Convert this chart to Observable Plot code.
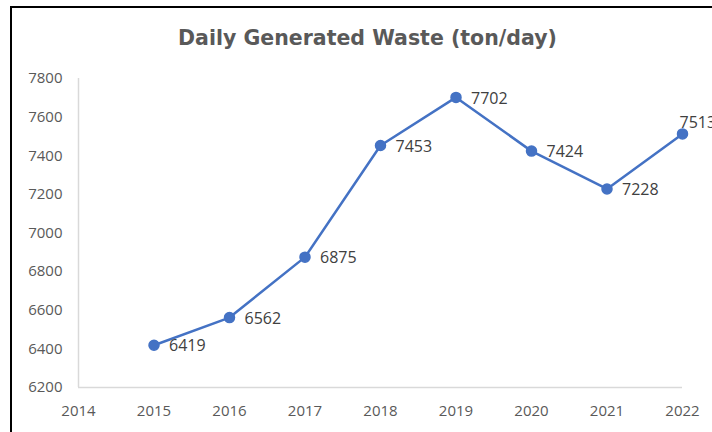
<!DOCTYPE html>
<html>
<head>
<meta charset="utf-8">
<script src="https://cdn.jsdelivr.net/npm/d3@7"></script>
<script src="https://cdn.jsdelivr.net/npm/@observablehq/plot@0.6"></script>
<style>
  html, body { margin: 0; padding: 0; background: #fff; }
  #wrap { position: relative; width: 712px; height: 432px; overflow: hidden; background: #fff; }
  #frame { position: absolute; left: 10px; top: 6px; width: 720px; height: 440px;
           border-top: 2px solid #000; border-left: 2px solid #000; pointer-events: none; z-index: 2; }
  #title { position: absolute; left: 0; top: 24px; width: 735px; text-align: center; z-index: 1;
           font-family: "DejaVu Sans", sans-serif; font-weight: bold; font-size: 20.5px; color: #595959;
           line-height: 28px; }
  #chart { position: absolute; left: 0; top: 0; }
</style>
</head>
<body>
<div id="wrap">
  <div id="chart"></div>
  <div id="title">Daily Generated Waste (ton/day)</div>
  <div id="frame"></div>
</div>
<script>
const years = [2015, 2016, 2017, 2018, 2019, 2020, 2021, 2022];
const waste = [6419, 6562, 6875, 7453, 7702, 7424, 7228, 7513];
const xTicks = [2014, 2015, 2016, 2017, 2018, 2019, 2020, 2021, 2022];
const yTicks = [6200, 6400, 6600, 6800, 7000, 7200, 7400, 7600, 7800];

const data = years.map((y, i) => ({year: y, value: waste[i]}));
const lastYear = years[years.length - 1];
const blue = "#4472C4";
const axisGray = "#595959";

const chart = Plot.plot({
  width: 712,
  height: 432,
  marginLeft: 78,
  marginRight: 30,
  marginTop: 78,
  marginBottom: 45,
  style: {fontFamily: "'Open Sans', sans-serif", fontSize: "15px", color: axisGray, background: "#fff"},
  x: {domain: [xTicks[0], xTicks[xTicks.length - 1]]},
  y: {domain: [yTicks[0], yTicks[yTicks.length - 1]]},
  marks: [
    Plot.axisX({ticks: xTicks, tickFormat: d => String(d), tickSize: 0, tickPadding: 18,
      fontSize: 15, fill: axisGray, label: null}),
    Plot.axisY({ticks: yTicks, tickFormat: d => String(d), tickSize: 0, tickPadding: 16,
      fontSize: 15, fill: axisGray, label: null}),
    Plot.ruleX([xTicks[0]], {stroke: "#d9d9d9", strokeWidth: 1.5}),
    Plot.ruleY([yTicks[0]], {stroke: "#d9d9d9", strokeWidth: 1.5}),
    Plot.line(data, {x: "year", y: "value", stroke: blue, strokeWidth: 2.5}),
    Plot.dot(data, {x: "year", y: "value", r: 5, fill: blue, stroke: blue}),
    Plot.text(data.filter(d => d.year !== lastYear), {x: "year", y: "value", text: d => String(d.value),
      textAnchor: "start", dx: 15, dy: 1, fontSize: 16, fill: "#404040"}),
    Plot.text(data.filter(d => d.year === lastYear), {x: "year", y: "value", text: d => String(d.value),
      textAnchor: "start", dx: -3, dy: -11, fontSize: 16, fill: "#404040"})
  ]
});
document.getElementById("chart").appendChild(chart);
</script>
</body>
</html>
